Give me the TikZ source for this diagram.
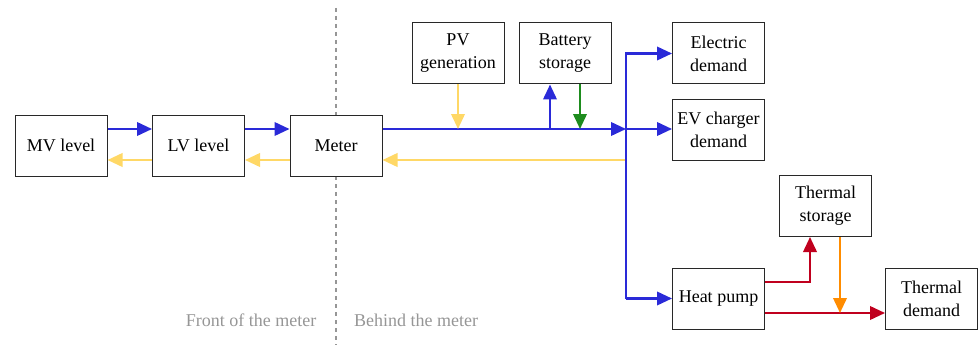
\documentclass[tikz,border=0pt]{standalone}
\usepackage{fontspec}
\setmainfont{Liberation Serif}
\usetikzlibrary{arrows.meta,calc}
\definecolor{flowblue}{RGB}{42,42,216}
\definecolor{flowyellow}{RGB}{255,216,102}
\definecolor{flowgreen}{RGB}{30,140,30}
\definecolor{flowred}{RGB}{192,0,30}
\definecolor{floworange}{RGB}{255,140,0}
\definecolor{boxline}{RGB}{40,40,40}
\definecolor{labelgray}{RGB}{150,150,150}
\tikzset{
  box/.style={draw=boxline, line width=1pt, fill=white, minimum width=92pt, minimum height=61pt,
    inner sep=1pt, align=center, font=\fontsize{18}{23}\selectfont},
  flow/.style={line width=2.2pt, -{Triangle[length=15pt,width=13.5pt]}},
  bl/.style={flow, draw=flowblue},
  yl/.style={flow, draw=flowyellow},
  gr/.style={flow, draw=flowgreen},
  rd/.style={flow, draw=flowred},
  og/.style={flow, draw=floworange},
  side/.style={text=labelgray, font=\fontsize{18}{21}\selectfont},
}
\begin{document}
\begin{tikzpicture}[x=1pt,y=-1pt]
\useasboundingbox (0,0) rectangle (978,345);
% divider
\coordinate (dtop) at (336,8);
\coordinate (dbot) at (336,345);
\draw[labelgray, line width=1.2pt, dash pattern=on 4pt off 4pt] (dtop) -- (dbot);
% boxes
\node[box] (mv) at (61,145.5) {MV level};
\node[box] (lv) at (198.5,145.5) {LV level};
\node[box] (meter) at (336,145.5) {Meter};
\node[box] (pv) at (458,53.5) {PV\\generation};
\node[box] (bat) at (565,53.5) {Battery\\storage};
\node[box] (elec) at (718.5,53.5) {Electric\\demand};
\node[box] (ev) at (718.5,130) {EV charger\\demand};
\node[box] (hp) at (718.5,298.5) {Heat pump};
\node[box] (ts) at (825.5,206) {Thermal\\storage};
\node[box] (td) at (931.5,298.5) {Thermal\\demand};
% side labels
\node[side] (front) at (251,320) {Front of the meter};
\node[side] (behind) at (416,320) {Behind the meter};
% grid flows
\draw[bl] ([yshift=16.5pt]mv.east) -- ([yshift=16.5pt]lv.west);
\draw[yl] ([yshift=-14.5pt]lv.west) -- ([yshift=-14.5pt]mv.east);
\draw[bl] ([yshift=16.5pt]lv.east) -- ([yshift=16.5pt]meter.west);
\draw[yl] ([yshift=-14.5pt]meter.west) -- ([yshift=-14.5pt]lv.east);
% bus
\coordinate (J) at (626,129);
\coordinate (Y) at (626,160);
\draw[bl] ([yshift=16.5pt]meter.east) -- (J);
\draw[yl] (Y) -- ([yshift=-14.5pt]meter.east);
\draw[bl] (hp.west -| J) -- (elec.west -| J) -- (elec.west);
\draw[bl] (J) -- (J -| ev.west);
\draw[bl] (hp.west -| J) -- (hp.west);
% PV and battery
\draw[yl] (pv.south) -- (pv.south |- J);
\draw[bl] ([xshift=-15pt]bat.south |- J) -- ([xshift=-15pt]bat.south);
\draw[gr] ([xshift=15pt]bat.south) -- ([xshift=15pt]bat.south |- J);
% thermal
\coordinate (tc) at (810,282);
\draw[rd] ([yshift=16.5pt]hp.east) -- (tc) -- (tc |- ts.south);
\draw[rd] ([yshift=-14.5pt]hp.east) -- ([yshift=-14.5pt]hp.east -| td.west);
\draw[og] ([xshift=14.5pt]ts.south) -- ([xshift=14.5pt]ts.south |- 0,313);
\end{tikzpicture}
\end{document}
